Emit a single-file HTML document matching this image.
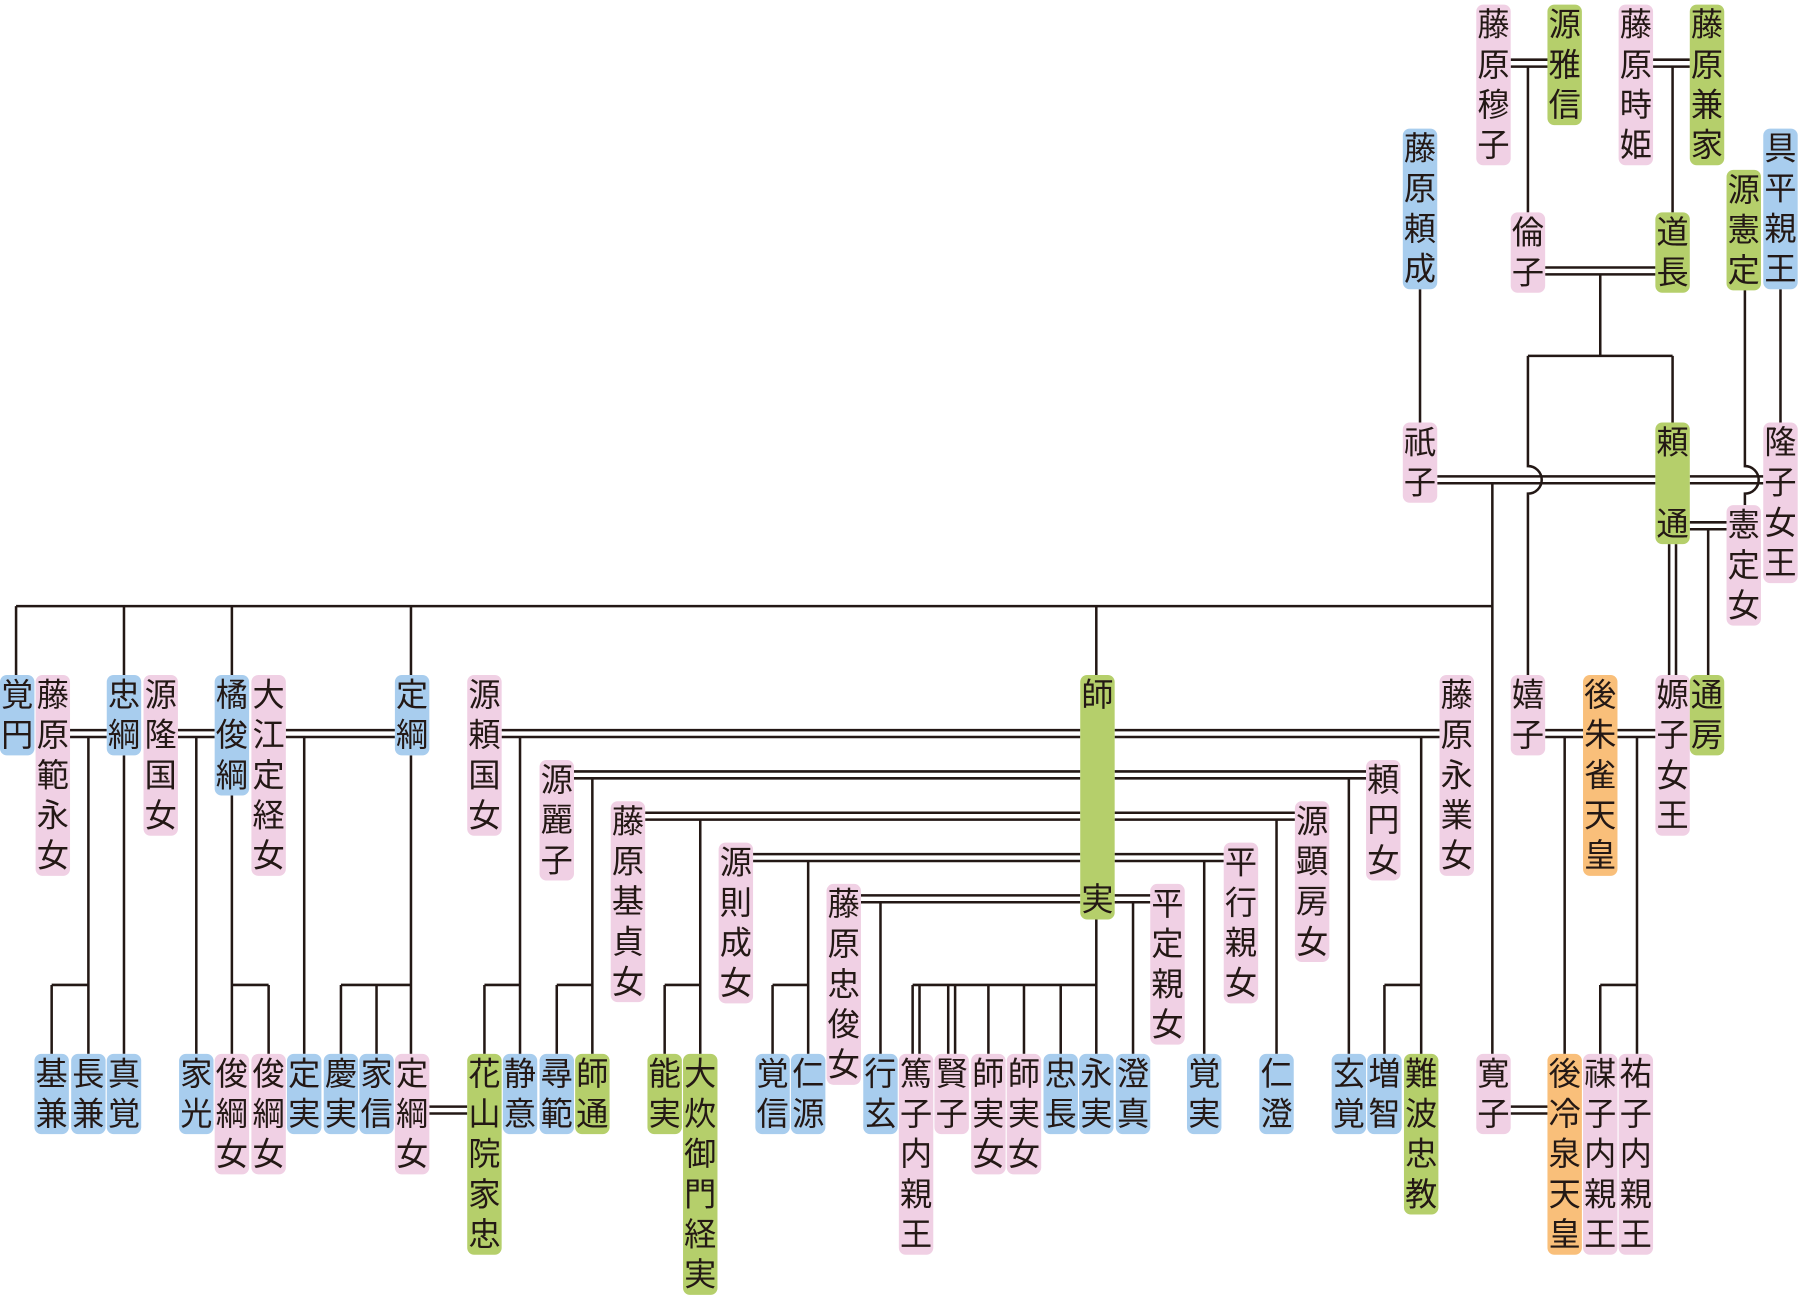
<!DOCTYPE html>
<html><head><meta charset="utf-8"><style>
html,body{margin:0;padding:0;background:#fff;}
#wrap{position:absolute;left:0;top:0;width:1568px;height:1134px;transform:scale(1.14796);transform-origin:0 0;overflow:hidden;}
.n{position:absolute;width:30px;border-radius:6px;font-family:"Liberation Sans","Noto Sans CJK JP",sans-serif;font-size:28px;line-height:35px;color:#231815;text-align:center;display:flex;flex-direction:column;justify-content:space-between;}
.n span{display:block;}
.p{background:#f0d0e4}.g{background:#b5cf6b}.b{background:#a8cdee}.o{background:#f9bf7a}
svg{position:absolute;left:0;top:0;}
</style></head><body>
<div id="wrap">
<svg id="lines" width="1568" height="1134" viewBox="0 0 1568 1134"></svg>
</div>
<script>
const W=30;
// name, x, y, color, height(optional)
const nodes=[
["藤原穆子",1286,4,"p"],["源雅信",1348,4,"g"],["藤原時姫",1410,4,"p"],["藤原兼家",1472,4,"g"],
["具平親王",1536,112,"b"],["藤原頼成",1222,112,"b"],["源憲定",1504,148,"g"],
["倫子",1316,185,"p"],["道長",1442,185,"g"],
["祇子",1222,368,"p"],["頼通",1442,368,"g",106],["隆子女王",1536,368,"p"],["憲定女",1504,440,"p"],
["覚円",0,588,"b"],["藤原範永女",31,588,"p"],["忠綱",93,588,"b"],["源隆国女",125,588,"p"],
["橘俊綱",187,588,"b"],["大江定経女",219,588,"p"],["定綱",344,588,"b"],["源頼国女",407,588,"p"],
["師実",941,588,"g",213],["藤原永業女",1254,588,"p"],["嬉子",1316,588,"p"],["後朱雀天皇",1379,588,"o"],
["嫄子女王",1442,588,"p"],["通房",1472,588,"g"],
["源麗子",470,662,"p"],["頼円女",1190,662,"p"],["藤原基貞女",532,698,"p"],["源顕房女",1128,698,"p"],
["源則成女",626,734,"p"],["平行親女",1066,734,"p"],["藤原忠俊女",720,770,"p"],["平定親女",1002,770,"p"],
["基兼",30,918,"b"],["長兼",62,918,"b"],["真覚",93,918,"b"],["家光",156,918,"b"],["俊綱女",187,918,"p"],
["俊綱女",219,918,"p"],["定実",250,918,"b"],["慶実",282,918,"b"],["家信",313,918,"b"],["定綱女",344,918,"p"],
["花山院家忠",407,918,"g"],["静意",438,918,"b"],["尋範",470,918,"b"],["師通",501,918,"g"],["能実",564,918,"g"],
["大炊御門経実",595,918,"g"],["覚信",658,918,"b"],["仁源",689,918,"b"],["行玄",752,918,"b"],
["篤子内親王",783,918,"p"],["賢子",814,918,"p"],["師実女",846,918,"p"],["師実女",877,918,"p"],
["忠長",909,918,"b"],["永実",940,918,"b"],["澄真",972,918,"b"],["覚実",1034,918,"b"],["仁澄",1097,918,"b"],
["玄覚",1160,918,"b"],["増智",1191,918,"b"],["難波忠教",1223,918,"g"],["寛子",1286,918,"p"],
["後冷泉天皇",1348,918,"o"],["禖子内親王",1379,918,"p"],["祐子内親王",1410,918,"p"]
];
const wrap=document.getElementById('wrap');
nodes.forEach(n=>{
  const d=document.createElement('div');
  d.className='n '+n[3];
  d.style.left=n[1]+'px';d.style.top=n[2]+'px';
  d.style.height=(n[4]||n[0].length*35)+'px';
  [...n[0]].forEach(c=>{const s=document.createElement('span');s.textContent=c;d.appendChild(s);});
  
  
  wrap.appendChild(d);
});
// line segments: [x1,y1,x2,y2]
const segs=[];
function L(x1,y1,x2,y2){segs.push(`M${x1} ${y1}L${x2} ${y2}`);}
function D(x1,x2,y){L(x1,y-3,x2,y-3);L(x1,y+3,x2,y+3);}
function DV(x,y1,y2){L(x-3,y1,x-3,y2);L(x+3,y1,x+3,y2);}
// top
D(1316,1348,55);L(1331,58,1331,185);
D(1440,1472,55);L(1457,58,1457,185);
D(1346,1442,236);L(1394,239,1394,310);L(1331,310,1457,310);L(1457,310,1457,368);
L(1237,252,1237,368);L(1551,252,1551,368);
D(1252,1442,418);D(1472,1536,418);
segs.push("M1331 310L1331 406A12 12 0 0 1 1331 430L1331 588");
segs.push("M1520 252L1520 406A12 12 0 0 1 1520 430L1520 440");
D(1472,1504,458);L(1488,461,1488,588);DV(1457,474,588);
L(1300,421,1300,918);L(14,528,1300,528);
[14,108,202,358,955].forEach(x=>L(x,528,x,588));
// row 588 marriages
D(61,93,639);D(155,187,639);D(249,344,639);D(437,941,639);D(971,1254,639);
D(1346,1379,639);D(1409,1442,639);
D(500,941,675);D(971,1190,675);D(562,941,711);D(971,1128,711);
D(656,941,747);D(971,1066,747);D(750,941,783);D(971,1002,783);
L(77,642,77,858);L(45,858,77,858);L(45,858,45,918);L(77,858,77,918);
L(108,658,108,918);L(171,642,171,918);
L(202,693,202,858);L(202,858,234,858);L(234,858,234,918);L(202,858,202,918);
L(265,642,265,918);
L(358,658,358,918);L(297,858,358,858);L(297,858,297,918);L(328,858,328,918);
D(374,407,967);
L(453,642,453,918);L(422,858,453,858);L(422,858,422,918);
L(516,678,516,918);L(485,858,516,858);L(485,858,485,918);
L(610,714,610,918);L(579,858,610,858);L(579,858,579,918);
L(704,750,704,918);L(673,858,704,858);L(673,858,673,918);
L(767,786,767,918);
L(955,801,955,918);L(795,858,955,858);DV(798,858,918);DV(829,858,918);
[861,892,924].forEach(x=>L(x,858,x,918));
L(987,786,987,918);L(1049,750,1049,918);L(1112,714,1112,918);L(1175,678,1175,918);
L(1238,642,1238,918);L(1206,858,1238,858);L(1206,858,1206,918);
D(1316,1348,967);
L(1363,642,1363,918);L(1426,642,1426,918);L(1394,858,1426,858);L(1394,858,1394,918);
const svg=document.getElementById('lines');
const p=document.createElementNS('http://www.w3.org/2000/svg','path');
p.setAttribute('d',segs.join(''));
p.setAttribute('stroke','#231815');p.setAttribute('stroke-width','2.2');p.setAttribute('fill','none');


svg.appendChild(p);
</script>
</body></html>
